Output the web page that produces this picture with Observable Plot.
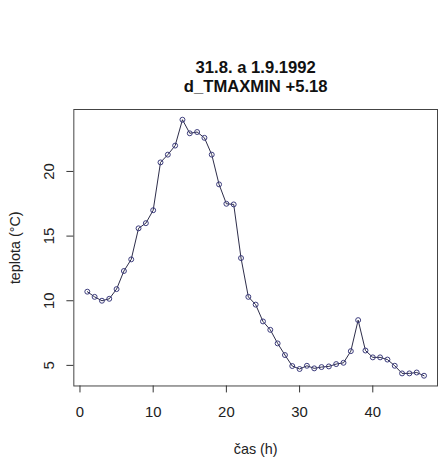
<!DOCTYPE html>
<html>
<head>
<meta charset="utf-8">
<script src="https://cdn.jsdelivr.net/npm/d3@7"></script>
<script src="https://cdn.jsdelivr.net/npm/@observablehq/plot@0.6"></script>
<style>
  html, body { margin: 0; padding: 0; background: #fff; overflow: hidden; width: 438px; height: 465px; }
  #chart { width: 438px; height: 465px; overflow: hidden; }
</style>
</head>
<body>
<div id="chart"></div>
<script>
const titleLines = ["31.8. a 1.9.1992", "d_TMAXMIN +5.18"];
const xLabel = "čas (h)";
const yLabel = "teplota (°C)";
const xTicks = [0, 10, 20, 30, 40];
const yTicks = [5, 10, 15, 20];
const hours = d3.range(1, 48);
const temps = [
  10.7, 10.3, 10.0, 10.15, 10.9, 12.3, 13.2, 15.6, 16.0, 17.0,
  20.7, 21.3, 22.0, 24.0, 22.95, 23.05, 22.6, 21.3, 19.0, 17.5,
  17.45, 13.3, 10.3, 9.7, 8.4, 7.75, 6.7, 5.8, 4.95, 4.72,
  4.97, 4.77, 4.87, 4.92, 5.1, 5.2, 6.1, 8.5, 6.15, 5.62,
  5.62, 5.45, 4.97, 4.38, 4.38, 4.45, 4.2
];
const data = hours.map((h, i) => ({h, t: temps[i]}));

const font = "Liberation Sans, Arial, Helvetica, sans-serif";
const ext = (a, b) => { const s = (b - a) * 0.04; return [a - s, b + s]; };

const chart = Plot.plot({
  width: 442,
  height: 465,
  marginTop: 110,
  marginBottom: 76,
  marginLeft: 74,
  marginRight: 1,
  style: { fontFamily: font, background: "#fff", overflow: "visible" },
  x: { domain: ext(1, 47) },
  y: { domain: ext(d3.min(temps), d3.max(temps)) },
  marks: [
    Plot.frame({ stroke: "#444", strokeWidth: 1 }),
    Plot.axisX({ ticks: xTicks, tickSize: 7, tickPadding: 14, fontSize: 15, fill: "#222", stroke: "#333",
      label: null }),
    Plot.text([xLabel], { text: d => d, frameAnchor: "bottom", dy: 64, fontSize: 14.5, fill: "#222",
      lineAnchor: "middle" }),
    Plot.axisY({ ticks: yTicks, tickSize: 7, tickFormat: () => "", stroke: "#333",
      label: null }),
    Plot.text(yTicks, { y: d => d, text: d => String(d), frameAnchor: "left", dx: -25, rotate: -90,
      textAnchor: "middle", lineAnchor: "middle", fontSize: 15, fill: "#222" }),
    Plot.text([yLabel], { text: d => d, frameAnchor: "left", dx: -59, rotate: -90,
      textAnchor: "middle", lineAnchor: "middle", fontSize: 14.5, fill: "#222" }),
    Plot.text([titleLines[0]], { text: d => d, frameAnchor: "top", dy: -42, fontSize: 16.8,
      fontWeight: "bold", fill: "#111", lineAnchor: "middle" }),
    Plot.text([titleLines[1]], { text: d => d, frameAnchor: "top", dy: -23, fontSize: 16.8,
      fontWeight: "bold", fill: "#111", lineAnchor: "middle" }),
    Plot.line(data, { x: "h", y: "t", stroke: "#2a2a48", strokeWidth: 1 }),
    Plot.dot(data, { x: "h", y: "t", r: 2.5, stroke: "#3a3a7a", strokeWidth: 1, fill: "none" })
  ]
});
document.getElementById("chart").appendChild(chart);
</script>
</body>
</html>
